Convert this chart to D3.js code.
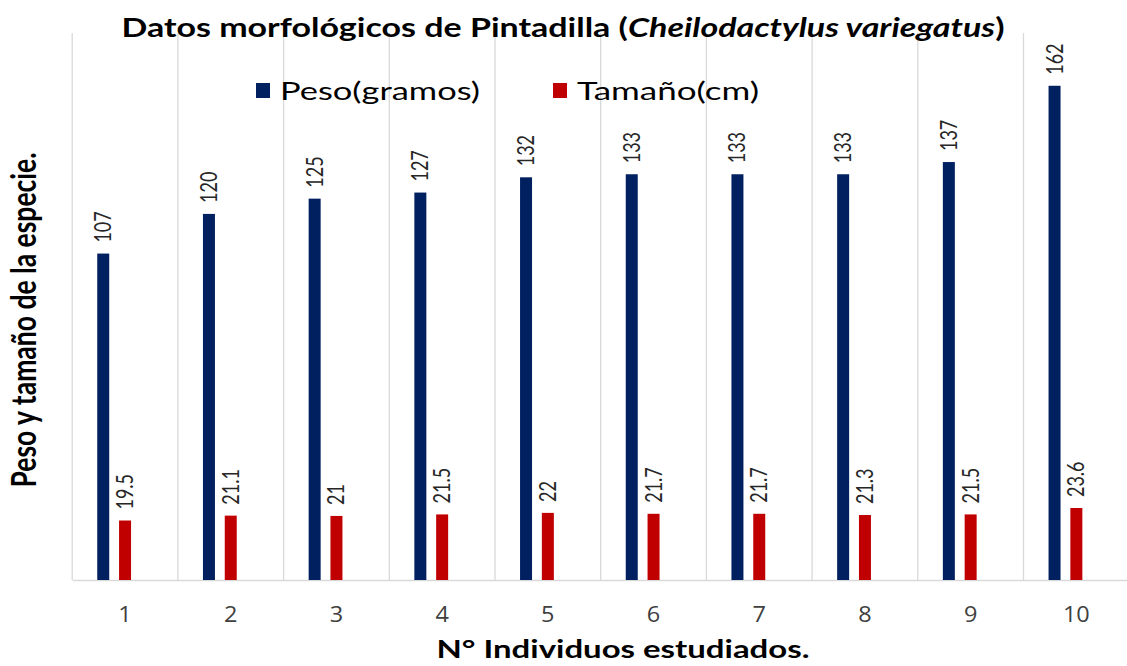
<!DOCTYPE html>
<html><head><meta charset="utf-8">
<script src="https://cdn.jsdelivr.net/npm/d3@7"></script>
<style>body{margin:0;background:#fff}svg{display:block}</style>
</head><body>
<svg id="c" width="1127" height="666"></svg>
<script>
const categories = ["1","2","3","4","5","6","7","8","9","10"];
const seriesNames = ["Peso(gramos)","Tamaño(cm)"];
const peso = [107,120,125,127,132,133,133,133,137,162];
const tamano = [19.5,21.1,21,21.5,22,21.7,21.7,21.3,21.5,23.6];
const tamanoLabels = ["19.5","21.1","21","21.5","22","21.7","21.7","21.3","21.5","23.6"];
const colors = ["#002060","#C00000"];

(function(){
const svg = d3.select("#c");
const mLeft = 72.2, mRight = 1129.2, mTop = 33, mBottom = 580;
const x0 = d3.scaleBand().domain(categories).range([mLeft, mRight]).padding(0);
const bw = x0.bandwidth();
const x1 = d3.scaleBand().domain(["Peso","Tamaño","_"]).range([bw*0.237, bw*0.763]).paddingInner(0.45).paddingOuter(0);
const y = d3.scaleLinear().domain([0, 179.3]).range([mBottom, mTop]);

const bounds = categories.map(c => x0(c)).concat([mRight]);
svg.append("g").selectAll("line").data(bounds).join("line")
  .attr("x1", d=>d).attr("x2", d=>d).attr("y1", mTop).attr("y2", mBottom)
  .attr("stroke", "#d9d9d9").attr("stroke-width", 1.3);

const xAxis = svg.append("g").attr("transform", `translate(0,${mBottom})`)
  .call(d3.axisBottom(x0).tickSize(0).tickPadding(0));
xAxis.select(".domain").attr("stroke", "#d9d9d9").attr("stroke-width", 1.5);
xAxis.selectAll("text").attr("dy", null).attr("y", 42)
  .attr("transform", "scale(1.12,1)")
  .attr("font-family", "Open Sans, sans-serif").attr("font-size", 21).attr("fill", "#404040");

const data = categories.map((c,i) => ({c, vals: [
  {k:"Peso", v:peso[i], lab:String(peso[i]), col:colors[0]},
  {k:"Tamaño", v:tamano[i], lab:tamanoLabels[i], col:colors[1]}]}));

const g = svg.append("g").selectAll("g").data(data).join("g")
  .attr("transform", d => `translate(${x0(d.c)},0)`);
g.selectAll("rect").data(d=>d.vals).join("rect")
  .attr("x", d=>x1(d.k)).attr("width", x1.bandwidth())
  .attr("y", d=>y(d.v)).attr("height", d=>mBottom-y(d.v)).attr("fill", d=>d.col);
g.selectAll("text").data(d=>d.vals).join("text")
  .attr("transform", d=>`translate(${x1(d.k)+x1.bandwidth()/2+8},${y(d.v)-11}) scale(1.28,1) rotate(-90)`)
  .attr("text-anchor","start")
  .attr("font-family","Lato, sans-serif").attr("font-size",18).attr("fill","#262626")
  .text(d=>d.lab);

const title = svg.append("text").attr("x", 563).attr("y", 37).attr("text-anchor","middle")
  .attr("textLength", 883).attr("lengthAdjust", "spacingAndGlyphs")
  .attr("font-family","Lato, sans-serif").attr("font-weight","bold").attr("font-size",27).attr("fill","#000");
title.append("tspan").text("Datos morfológicos de Pintadilla (");
title.append("tspan").attr("font-style","italic").text("Cheilodactylus variegatus");
title.append("tspan").text(")");

const legX = [256, 553];
const legW = [200, 182];
const leg = svg.append("g").selectAll("g").data(seriesNames).join("g")
  .attr("transform", (d,i)=>`translate(${legX[i]},83)`);
leg.append("rect").attr("width",14).attr("height",15).attr("fill",(d,i)=>colors[i]);
leg.append("text").attr("x",24).attr("y",17)
  .attr("textLength",(d,i)=>legW[i]).attr("lengthAdjust","spacingAndGlyphs")
  .attr("font-family","Lato, sans-serif").attr("font-weight",400).attr("font-size",25).attr("fill","#000").text(d=>d);

svg.append("text").attr("x", 623).attr("y", 658).attr("text-anchor","middle")
  .attr("textLength", 373).attr("lengthAdjust", "spacingAndGlyphs")
  .attr("font-family","Lato, sans-serif").attr("font-weight","bold").attr("font-size",24).attr("fill","#000")
  .text("N° Individuos estudiados.");
svg.append("text").attr("transform","translate(36,320) scale(1.35,1) rotate(-90)").attr("text-anchor","middle")
  .attr("textLength", 335).attr("lengthAdjust", "spacingAndGlyphs")
  .attr("font-family","Lato, sans-serif").attr("font-weight","bold").attr("font-size",25).attr("fill","#000")
  .text("Peso y tamaño de la especie.");
})();
</script>
</body></html>
